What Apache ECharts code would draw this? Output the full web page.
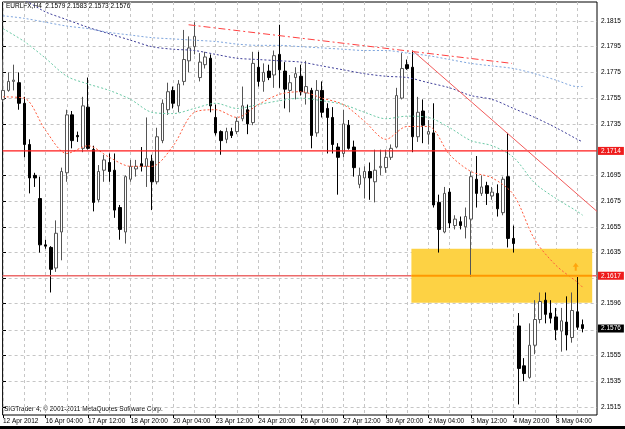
<!DOCTYPE html>
<html>
<head>
<meta charset="utf-8">
<script src="https://cdn.jsdelivr.net/npm/echarts@6/dist/echarts.min.js"></script>
<style>
  html, body { margin: 0; padding: 0; background: #fff; }
  #chart { width: 625px; height: 429px; }
</style>
</head>
<body>
<div id="chart"></div>
<script>
// H4 bars, bar 0 = 12 Apr 20:00, last bar = 9 May 00:00
const opens = [
  2.1754, 2.1761, 2.1768, 2.1767, 2.1751, 2.1719, 2.1695, 2.1677, 2.1641, 2.1639,
  2.1623, 2.1651, 2.1697, 2.1742, 2.1726, 2.1716, 2.1748, 2.1715, 2.1676, 2.1699,
  2.1705, 2.1699, 2.1670, 2.1651, 2.1692, 2.1700, 2.1704, 2.1702, 2.1706, 2.1690,
  2.1722, 2.1746, 2.1761, 2.1749, 2.1768, 2.1784, 2.1795, 2.1771, 2.1781, 2.1786,
  2.1740, 2.1729, 2.1723, 2.1729, 2.1729, 2.1739, 2.1746, 2.1736, 2.1779, 2.1768,
  2.1776, 2.1773, 2.1789, 2.1776, 2.1761, 2.1771, 2.1772, 2.1759, 2.1761, 2.1728,
  2.1761, 2.1747, 2.1740, 2.1717, 2.1712, 2.1734, 2.1717, 2.1688, 2.1693, 2.1698,
  2.1690, 2.1701, 2.1701, 2.1709, 2.1717, 2.1755, 2.1781, 2.1779, 2.1725, 2.1745,
  2.1727, 2.1728, 2.1674, 2.1651, 2.1682, 2.1656, 2.1659, 2.1655, 2.1661, 2.1692,
  2.1681, 2.1687, 2.1679, 2.1681, 2.1666, 2.1694, 2.1646, 2.1578, 2.1547, 2.1538,
  2.1563, 2.1583, 2.1598, 2.1588, 2.1585, 2.1574, 2.1581, 2.1569, 2.1589, 2.1579
];
const closes = [
  2.1761, 2.1768, 2.1769, 2.1751, 2.1719, 2.1693, 2.1693, 2.1641, 2.1640, 2.1622,
  2.1650, 2.1698, 2.1742, 2.1722, 2.1725, 2.1749, 2.1716, 2.1674, 2.1698, 2.1707,
  2.1698, 2.1668, 2.1653, 2.1694, 2.1702, 2.1702, 2.1702, 2.1708, 2.1690, 2.1725,
  2.1751, 2.1760, 2.1751, 2.1766, 2.1785, 2.1794, 2.1803, 2.1783, 2.1787, 2.1749,
  2.1728, 2.1722, 2.1729, 2.1726, 2.1737, 2.1749, 2.1735, 2.1782, 2.1768, 2.1775,
  2.1771, 2.1788, 2.1777, 2.1762, 2.1767, 2.1774, 2.1760, 2.1764, 2.1726, 2.1761,
  2.1744, 2.1740, 2.1719, 2.1709, 2.1735, 2.1716, 2.1701, 2.1695, 2.1698, 2.1693,
  2.1699, 2.1702, 2.1709, 2.1716, 2.1757, 2.1778, 2.1778, 2.1725, 2.1744, 2.1734,
  2.1729, 2.1672, 2.1653, 2.1681, 2.1658, 2.1661, 2.1656, 2.1663, 2.1694, 2.1681,
  2.1686, 2.1681, 2.1682, 2.1669, 2.1692, 2.1646, 2.1642, 2.1545, 2.1541, 2.1563,
  2.1583, 2.1597, 2.1587, 2.1584, 2.1575, 2.1582, 2.1571, 2.1590, 2.1577, 2.1576
];
const lows = [
  2.1752, 2.1760, 2.1761, 2.1746, 2.1709, 2.1681, 2.1686, 2.1635, 2.1638, 2.1604,
  2.1620, 2.1629, 2.1690, 2.1716, 2.1721, 2.1713, 2.1715, 2.1667, 2.1674, 2.1690,
  2.1690, 2.1662, 2.1645, 2.1642, 2.1690, 2.1694, 2.1698, 2.1686, 2.1668, 2.1688,
  2.1720, 2.1742, 2.1747, 2.1744, 2.1765, 2.1775, 2.1789, 2.1768, 2.1778, 2.1744,
  2.1726, 2.1711, 2.1720, 2.1724, 2.1727, 2.1737, 2.1727, 2.1734, 2.1764, 2.1760,
  2.1769, 2.1763, 2.1763, 2.1747, 2.1744, 2.1754, 2.1757, 2.1750, 2.1716, 2.1725,
  2.1740, 2.1712, 2.1712, 2.1680, 2.1709, 2.1715, 2.1694, 2.1685, 2.1677, 2.1676,
  2.1674, 2.1695, 2.1697, 2.1707, 2.1716, 2.1754, 2.1777, 2.1713, 2.1721, 2.1720,
  2.1719, 2.1670, 2.1635, 2.1650, 2.1654, 2.1653, 2.1653, 2.1646, 2.1616, 2.1670,
  2.1679, 2.1672, 2.1676, 2.1663, 2.1664, 2.1639, 2.1635, 2.1517, 2.1535, 2.1537,
  2.1556, 2.1580, 2.1580, 2.1580, 2.1567, 2.1558, 2.1559, 2.1565, 2.1575, 2.1573
];
const highs = [
  2.1785, 2.1775, 2.1781, 2.1775, 2.1756, 2.1723, 2.1697, 2.1694, 2.1645, 2.1640,
  2.1660, 2.1701, 2.1746, 2.1745, 2.1729, 2.1756, 2.1771, 2.1718, 2.1703, 2.1711,
  2.1712, 2.1712, 2.1672, 2.1695, 2.1707, 2.1707, 2.1717, 2.1740, 2.1711, 2.1732,
  2.1754, 2.1767, 2.1764, 2.1769, 2.1808, 2.1803, 2.1814, 2.1790, 2.1791, 2.1789,
  2.1750, 2.1730, 2.1732, 2.1732, 2.1740, 2.1764, 2.1750, 2.1791, 2.1791, 2.1782,
  2.1781, 2.1792, 2.1812, 2.1783, 2.1773, 2.1779, 2.1781, 2.1784, 2.1763, 2.1769,
  2.1768, 2.1751, 2.1748, 2.1720, 2.1746, 2.1738, 2.1722, 2.1701, 2.1702, 2.1705,
  2.1715, 2.1715, 2.1715, 2.1719, 2.1763, 2.1790, 2.1785, 2.1792, 2.1756, 2.1754,
  2.1738, 2.1751, 2.1680, 2.1686, 2.1685, 2.1664, 2.1663, 2.1670, 2.1698, 2.1710,
  2.1695, 2.1690, 2.1686, 2.1688, 2.1694, 2.1728, 2.1656, 2.1588, 2.1553, 2.1580,
  2.1598, 2.1604, 2.1604, 2.1598, 2.1592, 2.1592, 2.1601, 2.1604, 2.1616, 2.1583
];

// moving averages, read every 4 bars
const maBars  = [0, 4, 8, 12, 16, 20, 24, 28, 32, 36, 40, 44, 48, 52, 56, 60, 64, 68, 72, 76, 80, 84, 88, 92, 96, 100, 104, 108, 109];
const maSlow  = [2.1819, 2.1817, 2.1814, 2.1811, 2.1809, 2.1806, 2.1804, 2.1802, 2.1801, 2.1800, 2.1799, 2.1797, 2.1796, 2.1796, 2.1795, 2.1794, 2.1793, 2.1792, 2.1792, 2.1790, 2.1788, 2.1785, 2.1782, 2.1780, 2.1778, 2.1774, 2.1769, 2.1764, 2.1764];
const maNavy  = [2.1836, 2.1831, 2.1822, 2.1816, 2.1810, 2.1805, 2.1800, 2.1795, 2.1793, 2.1792, 2.1789, 2.1786, 2.1785, 2.1784, 2.1783, 2.1780, 2.1777, 2.1774, 2.1772, 2.1771, 2.1767, 2.1763, 2.1757, 2.1754, 2.1747, 2.1740, 2.1732, 2.1723, 2.1721];
const maGreen = [2.1809, 2.1799, 2.1786, 2.1772, 2.1766, 2.1761, 2.1754, 2.1744, 2.1743, 2.1747, 2.1751, 2.1747, 2.1750, 2.1753, 2.1755, 2.1753, 2.1750, 2.1744, 2.1739, 2.1741, 2.1740, 2.1732, 2.1722, 2.1718, 2.1709, 2.1689, 2.1677, 2.1667, 2.1664];
const maFast  = [2.1756, 2.1755, 2.1730, 2.1712, 2.1718, 2.1709, 2.1702, 2.1702, 2.1718, 2.1744, 2.1746, 2.1740, 2.1750, 2.1758, 2.1760, 2.1755, 2.1750, 2.1737, 2.1723, 2.1733, 2.1733, 2.1711, 2.1698, 2.1693, 2.1680, 2.1645, 2.1625, 2.1612, 2.1608];

// time axis
const timeTicks  = [0, 8, 16, 24, 32, 40, 48, 56, 64, 72, 80, 88, 96, 104];
const timeLabels = ['12 Apr 2012', '16 Apr 04:00', '17 Apr 12:00', '18 Apr 20:00', '20 Apr 04:00', '23 Apr 12:00', '24 Apr 20:00',
                    '26 Apr 04:00', '27 Apr 12:00', '30 Apr 20:00', '2 May 04:00', '3 May 12:00', '4 May 20:00', '8 May 04:00'];
const gridBars = [0, 4, 8, 12, 16, 20, 24, 28, 32, 36, 40, 44, 48, 52, 56, 60, 64, 68, 72, 76, 80, 84, 88, 92, 96, 100, 104, 108];

// price axis (2.1715 grid line sits under the red level)
const priceGrid   = [2.1515, 2.1535, 2.1555, 2.1575, 2.1596, 2.1615, 2.1635, 2.1655, 2.1675, 2.1695, 2.1735, 2.1755, 2.1775, 2.1795, 2.1815];
const priceLabels = [2.1515, 2.1535, 2.1555, 2.1596, 2.1635, 2.1655, 2.1675, 2.1695, 2.1735, 2.1755, 2.1775, 2.1795, 2.1815];

// objects drawn on the chart
const level1 = 2.1714;
const level2 = 2.1617;
const lastPrice = 2.1576;
const zoneBars = [76.8, 110.8];
const zonePrices = [2.1638, 2.1596];
const resistBars = [34.9, 95.7];
const resistPrices = [2.1812, 2.1782];
const fallBars = [77.0, 111.7];
const fallPrices = [2.1792, 2.1667];
const arrowBar = 107.7;
const arrowPrice = 2.1624;

const X_MIN = -0.075, X_MAX = 111.7;
const Y_MIN = 2.15088, Y_MAX = 2.18297;

const FONT = 'Liberation Sans';
const FS = 6.5;

const chart = echarts.init(document.getElementById('chart'));

function maLine(vals, color) {
  return {
    type: 'line',
    data: maBars.map((b, i) => [b, vals[i]]),
    showSymbol: false,
    smooth: 0.3,
    silent: true,
    z: 4,
    lineStyle: { color: color, width: 1, type: [2, 2] }
  };
}

// straight object line between two (bar, price) points
function objLine(bars, prices, color, width, type) {
  return {
    type: 'line',
    data: bars.map((b, i) => [b, prices[i]]),
    showSymbol: false, silent: true, z: 5,
    lineStyle: { color: color, width: width, type: type }
  };
}

// price tag on the right scale
function tagLabel(bg, value) {
  return {
    show: true,
    position: 'end',
    distance: 1,
    formatter: () => value.toFixed(4),
    color: '#fff',
    backgroundColor: bg,
    padding: [1, 3, 0, 3],
    fontSize: FS,
    fontFamily: FONT
  };
}

function tag(value, bg) {
  return [{ coord: [X_MAX - 0.2, value], lineStyle: { color: 'rgba(0,0,0,0)', width: 1 }, label: tagLabel(bg, value) },
          { coord: [X_MAX, value] }];
}

const option = {
  animation: false,
  backgroundColor: '#fff',
  grid: { left: 2, right: 28, top: 2, bottom: 14, show: true, borderColor: '#000', borderWidth: 1, backgroundColor: '#fff' },
  xAxis: [
    {
      type: 'value', min: X_MIN, max: X_MAX, position: 'bottom',
      axisLine: { show: false },
      axisTick: { show: false, customValues: gridBars },
      axisLabel: { show: false },
      splitLine: { show: true, lineStyle: { color: '#c6c6c6', width: 1, type: [3, 3] } }
    },
    {
      type: 'value', min: X_MIN, max: X_MAX, position: 'bottom',
      axisLine: { show: false },
      axisTick: { show: true, customValues: timeTicks, length: 3, lineStyle: { color: '#000' } },
      axisLabel: {
        customValues: timeTicks,
        formatter: v => {
          const k = timeTicks.indexOf(v);
          return k >= 0 ? timeLabels[k] : '';
        },
        align: 'left', fontSize: FS, fontFamily: FONT, color: '#000', margin: 3
      },
      splitLine: { show: false }
    }
  ],
  yAxis: {
    type: 'value', position: 'right', min: Y_MIN, max: Y_MAX,
    axisLine: { show: false },
    axisTick: { show: true, customValues: priceGrid, length: 3, lineStyle: { color: '#000' } },
    splitLine: { show: true, lineStyle: { color: '#c6c6c6', width: 1, type: [3, 3] } },
    axisLabel: {
      customValues: priceLabels,
      formatter: v => v.toFixed(4),
      fontSize: FS, fontFamily: FONT, color: '#000', margin: 4
    }
  },
  series: [
    {
      // yellow zone, price tags and the arrow object
      type: 'scatter',
      data: [[arrowBar, arrowPrice]],
      symbol: 'path://M3,0 L6,4 L4,4 L4,8 L2,8 L2,4 L0,4 Z',
      symbolSize: [6, 8],
      itemStyle: { color: '#ff9a00' },
      silent: true,
      z: 6,
      markArea: {
        silent: true,
        itemStyle: { color: '#fdd244', opacity: 1 },
        data: [[{ coord: [zoneBars[0], zonePrices[0]] }, { coord: [zoneBars[1], zonePrices[1]] }]]
      },
      markLine: {
        silent: true,
        precision: 4,
        symbol: ['none', 'none'],
        data: [tag(level1, '#ee1c1c'), tag(level2, '#ee1c1c'), tag(lastPrice, '#000')]
      }
    },
    {
      type: 'candlestick',
      data: opens.map((o, i) => [i, o, closes[i], lows[i], highs[i]]),
      encode: { x: 0, y: [1, 2, 3, 4] },
      barWidth: 3,
      silent: true,
      z: 3,
      itemStyle: { color: '#fff', color0: '#000', borderColor: '#555', borderColor0: '#000', borderWidth: 1 }
    },
    maLine(maSlow, '#7fa6de'),
    maLine(maNavy, '#40409a'),
    maLine(maGreen, '#6cc9a6'),
    maLine(maFast, '#ff5a3c'),
    objLine([X_MIN, X_MAX], [level1, level1], '#ff1a1a', 1.2, 'solid'),
    objLine([X_MIN, zoneBars[0]], [level2, level2], '#ec6a6a', 1.5, 'solid'),
    objLine(zoneBars, [level2, level2], '#ff9800', 2, 'solid'),
    objLine([zoneBars[1], X_MAX], [level2, level2], '#ec6a6a', 1.5, 'solid'),
    objLine(resistBars, resistPrices, '#ff4040', 1, [7, 3, 2, 3]),
    objLine(fallBars, fallPrices, '#f25a5a', 1, 'solid')
  ],
  graphic: [
    { type: 'text', left: 6, top: 3, silent: true,
      style: { text: 'EURLFX,H4  2.1579 2.1583 2.1573 2.1576', fontSize: FS, fontFamily: FONT, fill: '#000' } },
    { type: 'text', left: 4, top: 406, silent: true,
      style: { text: 'SIGTrader 4, © 2001-2011 MetaQuotes Software Corp.', fontSize: FS, fontFamily: FONT, fill: '#000' } },
    { type: 'rect', left: 0, top: 426, silent: true, shape: { width: 625, height: 3 }, style: { fill: '#000' } }
  ]
};

chart.setOption(option);
</script>
</body>
</html>
